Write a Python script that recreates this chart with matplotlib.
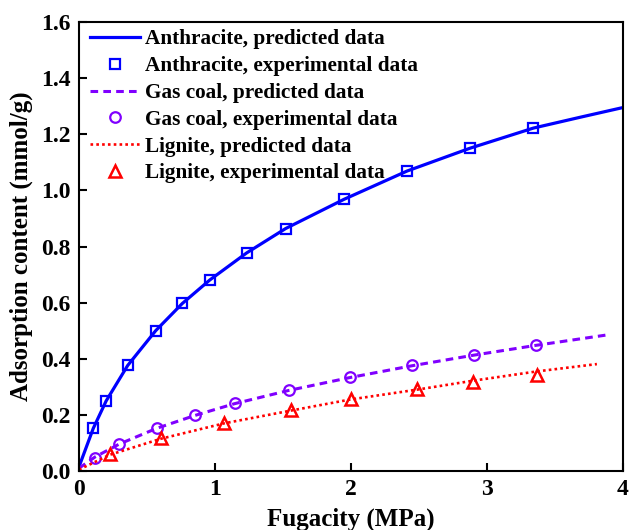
import matplotlib
matplotlib.use("Agg")
import matplotlib.pyplot as plt

plt.rcParams['font.family'] = ['Liberation Serif', 'DejaVu Serif']
plt.rcParams['font.weight'] = 'bold'
plt.rcParams['mathtext.default'] = 'bf'

# Anthracite
anth_exp_x = [0.105, 0.20, 0.358, 0.564, 0.76, 0.963, 1.233, 1.52, 1.949, 2.414, 2.875, 3.343]
anth_exp_y = [0.152, 0.25, 0.376, 0.50, 0.597, 0.681, 0.777, 0.864, 0.968, 1.069, 1.15, 1.222]
anth_pred_x = [0.0, 0.105, 0.20, 0.358, 0.564, 0.76, 0.963, 1.233, 1.52, 1.949, 2.414, 2.875, 3.343, 3.7, 4.0]
anth_pred_y = [0.015, 0.152, 0.25, 0.376, 0.50, 0.597, 0.681, 0.777, 0.864, 0.968, 1.069, 1.15, 1.222, 1.262, 1.295]

# Gas coal
gas_exp_x = [0.118, 0.296, 0.571, 0.853, 1.145, 1.542, 1.993, 2.449, 2.907, 3.365]
gas_exp_y = [0.048, 0.095, 0.153, 0.20, 0.242, 0.288, 0.335, 0.376, 0.414, 0.448]
gas_pred_x = [0.0, 0.118, 0.296, 0.571, 0.853, 1.145, 1.542, 1.993, 2.449, 2.907, 3.365, 3.9]
gas_pred_y = [0.01, 0.05, 0.096, 0.152, 0.198, 0.24, 0.287, 0.333, 0.375, 0.413, 0.448, 0.486]

# Lignite
lig_exp_x = [0.228, 0.603, 1.069, 1.556, 1.998, 2.488, 2.902, 3.37]
lig_exp_y = [0.060, 0.117, 0.172, 0.218, 0.256, 0.292, 0.317, 0.343]
lig_pred_x = [0.0, 0.228, 0.603, 1.069, 1.556, 1.998, 2.488, 2.902, 3.37, 3.81]
lig_pred_y = [0.005, 0.058, 0.115, 0.170, 0.215, 0.255, 0.290, 0.322, 0.355, 0.381]

x_ticks = [0, 1, 2, 3, 4]
y_ticks = [0.0, 0.2, 0.4, 0.6, 0.8, 1.0, 1.2, 1.4, 1.6]

blue = '#0000FF'
purple = '#8000FF'
red = '#FF0000'

fig = plt.figure(figsize=(6.29, 5.30), dpi=100)
ax = fig.add_axes([0.1256, 0.1113, 0.8644, 0.8472])

ax.plot(anth_pred_x, anth_pred_y, '-', color=blue, lw=2.3, label='Anthracite, predicted data')
ax.plot(anth_exp_x, anth_exp_y, 's', color=blue, mfc='none', mec=blue, ms=7.6, mew=1.6,
        label='Anthracite, experimental data')
ax.plot(gas_pred_x, gas_pred_y, '--', color=purple, lw=2.2, dashes=(2.5, 1.7), label='Gas coal, predicted data')
ax.plot(gas_exp_x, gas_exp_y, 'o', color=purple, mfc='none', mec=purple, ms=7.6, mew=1.6,
        label='Gas coal, experimental data')
ax.plot(lig_pred_x, lig_pred_y, ':', color=red, lw=1.9, dashes=(1, 1.2), label='Lignite, predicted data')
ax.plot(lig_exp_x, lig_exp_y, '^', color=red, mfc='none', mec=red, ms=8.6, mew=1.8,
        label='Lignite, experimental data')

ax.set_xlim(0, 4)
ax.set_ylim(0, 1.6)
ax.set_xticks(x_ticks)
ax.set_yticks(y_ticks)
ax.set_xticklabels([str(v) for v in x_ticks])
ax.set_yticklabels([f'{v:.1f}' for v in y_ticks])
ax.tick_params(direction='in', length=6, width=1.5, labelsize=17, pad=6)
for s in ax.spines.values():
    s.set_linewidth(1.5)

ax.set_xlabel('Fugacity (MPa)', fontsize=18, fontweight='bold', labelpad=5)
ax.set_ylabel('Adsorption content (mmol/g)', fontsize=18, fontweight='bold', labelpad=6)

ax.legend(loc='upper left', bbox_to_anchor=(0.006, 1.0), frameon=False, fontsize=15.3,
          handlelength=2.35, handletextpad=0.25, labelspacing=0.32, borderaxespad=0.3, borderpad=0.05)

fig.savefig('out.png', dpi=100)
